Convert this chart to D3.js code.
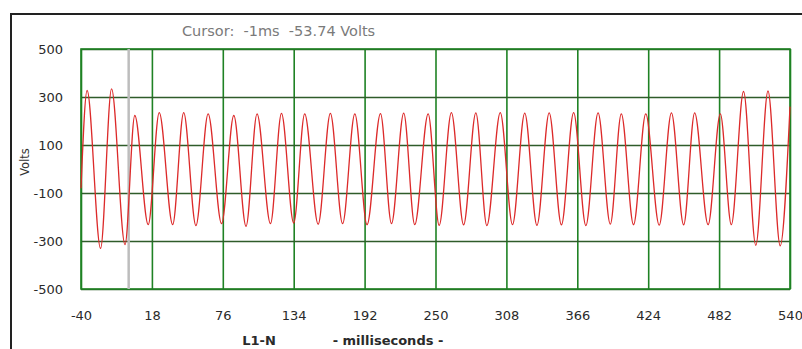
<!DOCTYPE html>
<html>
<head>
<meta charset="utf-8">
<script src="https://cdn.jsdelivr.net/npm/d3@7"></script>
<style>
  body { margin: 0; background: #fff; }
  svg { display: block; }
  .tick text { font-family: "DejaVu Sans", sans-serif; }
</style>
</head>
<body>
<div id="chart"></div>
<script>
// axis ticks
var xTicks = [-40, 18, 76, 134, 192, 250, 308, 366, 424, 482, 540];
var yTicks = [-500, -300, -100, 100, 300, 500];

// waveform turning points (ms / volts)
var traceMs = [-40, -35, -24, -15, -4, 4, 15, 24, 35, 44, 54, 64, 75, 85, 95, 104, 115, 124, 134, 143,
  154, 164, 174, 184, 194, 205, 214, 224, 233, 244, 253, 263, 273, 283, 292, 303, 313, 323, 333, 343,
  353, 363, 373, 383, 393, 402, 412, 422, 433, 443, 453, 462, 473, 483, 492, 502, 512, 522, 532, 540];
var traceVolts = [-80, 327, -331, 334, -315, 223, -232, 235, -232, 235, -236, 230, -228, 223, -239, 230, -228, 232, -225, 230,
  -230, 232, -228, 230, -232, 231, -228, 233, -232, 230, -235, 235, -233, 234, -236, 235, -232, 233, -235, 234,
  -233, 235, -236, 234, -230, 230, -232, 230, -234, 234, -233, 234, -232, 230, -232, 323, -318, 325, -320, 260];

// cursor readout
var cursorMs = -1;
var cursorVolts = -53.74;

var W = 802, H = 349;
var svg = d3.select("#chart").append("svg").attr("width", W).attr("height", H);

var x = d3.scaleLinear().domain([-40, 540]).range([81, 790]);
var y = d3.scaleLinear().domain([-500, 500]).range([289, 49]);

// outer frame (only top + left edges are in view)
svg.append("path")
    .attr("d", "M11,349 L11,14 L802,14")
    .attr("fill", "none")
    .attr("stroke", "#222")
    .attr("stroke-width", 2);

// cursor text
svg.append("text")
    .attr("x", 182).attr("y", 36)
    .attr("font-family", "DejaVu Sans, sans-serif")
    .attr("font-size", "14.5px")
    .attr("fill", "#7a7a7a")
    .attr("xml:space", "preserve")
    .text("Cursor:  " + cursorMs + "ms  " + cursorVolts + " Volts");

// vertical grid lines
svg.append("g")
    .attr("transform", "translate(0,289)")
    .call(d3.axisBottom(x).tickValues(xTicks).tickSize(-240).tickFormat(""))
    .call(g => g.select(".domain").remove())
    .call(g => g.selectAll("line").attr("stroke", "#1f8224").attr("stroke-width", 1.6));

// horizontal grid lines
svg.append("g")
    .attr("transform", "translate(81,0)")
    .call(d3.axisLeft(y).tickValues(yTicks).tickSize(-709).tickFormat(""))
    .call(g => g.select(".domain").remove())
    .call(g => g.selectAll("line").attr("stroke", "#2f5c2a").attr("stroke-width", 1.6));

// plot border
svg.append("rect")
    .attr("x", x(-40)).attr("y", y(500))
    .attr("width", x(540) - x(-40)).attr("height", y(-500) - y(500))
    .attr("fill", "none")
    .attr("stroke", "#1f8224")
    .attr("stroke-width", 1.6);

// cursor line
svg.append("line")
    .attr("x1", x(cursorMs)).attr("x2", x(cursorMs))
    .attr("y1", y(500)).attr("y2", y(-500))
    .attr("stroke", "#bdbdbd")
    .attr("stroke-width", 2.5);

// trace
var pts = traceMs.map((t, i) => [t, traceVolts[i]]);
svg.append("path")
    .datum(pts)
    .attr("fill", "none")
    .attr("stroke", "#dc2a2a")
    .attr("stroke-width", 1.3)
    .attr("d", d3.line().x(d => x(d[0])).y(d => y(d[1])).curve(d3.curveMonotoneX));

// y tick labels
svg.append("g")
    .attr("transform", "translate(65,0)")
    .call(d3.axisLeft(y).tickValues(yTicks).tickSize(0).tickPadding(2).tickFormat(d => String(d)))
    .call(g => g.select(".domain").remove())
    .call(g => g.selectAll("text").attr("font-size", "13px").attr("fill", "#2a2a2a"));

// x tick labels
svg.append("g")
    .attr("transform", "translate(0,311)")
    .call(d3.axisBottom(x).tickValues(xTicks).tickSize(0).tickPadding(0).tickFormat(d => String(d)))
    .call(g => g.select(".domain").remove())
    .call(g => g.selectAll("text").attr("font-size", "13px").attr("fill", "#2a2a2a"));

// axis titles
svg.append("text")
    .attr("transform", "translate(29,162) rotate(-90)")
    .attr("text-anchor", "middle")
    .attr("font-family", "DejaVu Sans, sans-serif")
    .attr("font-size", "11.5px")
    .attr("fill", "#333")
    .text("Volts");

svg.append("text")
    .attr("x", 259).attr("y", 345)
    .attr("text-anchor", "middle")
    .attr("font-family", "DejaVu Sans, sans-serif")
    .attr("font-weight", "bold")
    .attr("font-size", "13px")
    .attr("fill", "#2a2a2a")
    .text("L1-N");

svg.append("text")
    .attr("x", 388).attr("y", 345)
    .attr("text-anchor", "middle")
    .attr("font-family", "DejaVu Sans, sans-serif")
    .attr("font-weight", "bold")
    .attr("font-size", "13px")
    .attr("fill", "#2a2a2a")
    .text("- milliseconds -");
</script>
</body>
</html>
